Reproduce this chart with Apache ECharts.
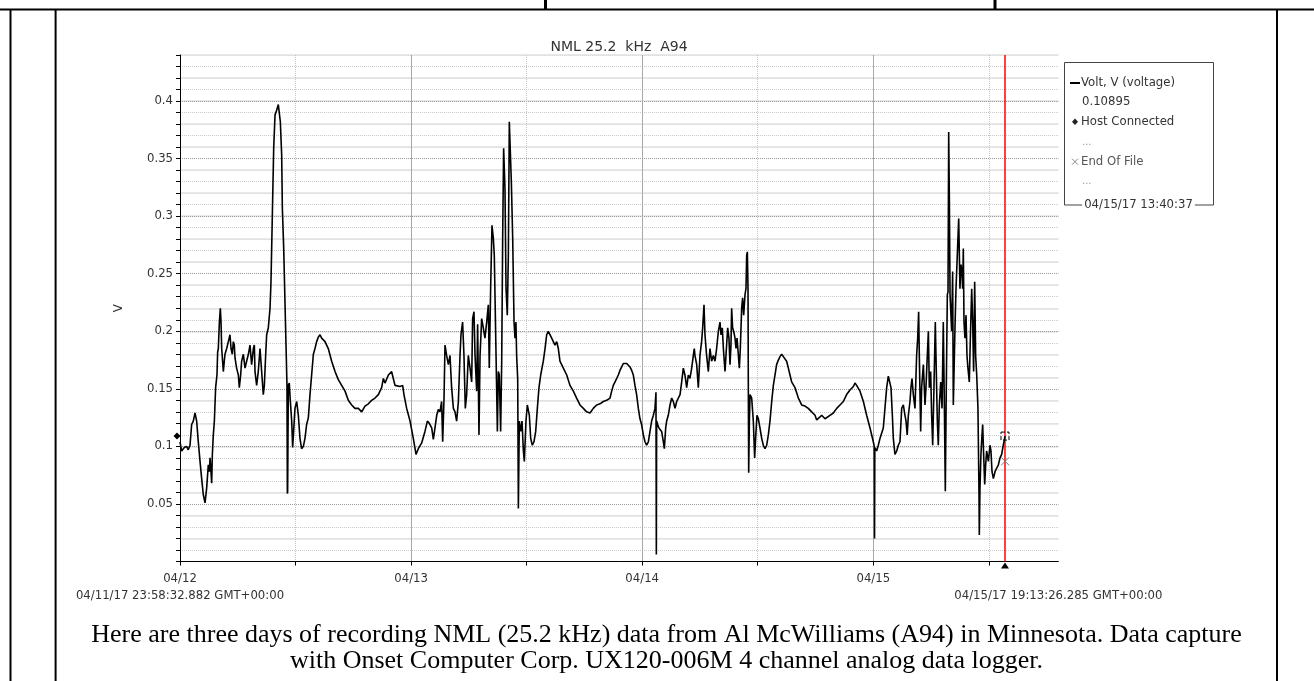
<!DOCTYPE html>
<html>
<head>
<meta charset="utf-8">
<script src="https://cdn.jsdelivr.net/npm/echarts@6/dist/echarts.min.js"></script>
<style>
html,body{margin:0;padding:0;background:#fff;}
#chart{width:1314px;height:681px;}
</style>
</head>
<body>
<div id="chart"></div>
<script>
// Hours after 04/12/17 00:00 GMT, voltage (V)
const day12 = [[0.00,0.104],[0.17,0.096],[0.45,0.099],[0.69,0.100],[0.86,0.097],[1.04,0.101],[1.21,0.119],[1.38,0.122],[1.56,0.129],[1.73,0.122],[1.90,0.104],[2.08,0.087],[2.25,0.072],[2.42,0.058],[2.60,0.051],[2.77,0.064],[2.94,0.084],[3.05,0.078],[3.12,0.090],[3.22,0.078],[3.29,0.068],[3.36,0.093],[3.46,0.110],[3.57,0.122],[3.70,0.151],[3.84,0.162],[3.91,0.182],[3.98,0.185],[4.09,0.208],[4.19,0.220],[4.26,0.208],[4.33,0.185],[4.50,0.165],[4.60,0.174],[4.67,0.180],[4.85,0.185],[5.02,0.191],[5.19,0.197],[5.30,0.185],[5.43,0.180],[5.54,0.191],[5.64,0.188],[5.71,0.177],[5.88,0.168],[6.06,0.162],[6.16,0.151],[6.30,0.162],[6.40,0.174],[6.58,0.180],[6.75,0.168],[6.92,0.174],[7.10,0.180],[7.27,0.188],[7.44,0.171],[7.62,0.185],[7.72,0.188],[7.79,0.165],[7.96,0.153],[8.13,0.165],[8.31,0.185],[8.48,0.165],[8.65,0.145],[8.76,0.153],[8.90,0.180],[9.00,0.197],[9.17,0.203],[9.35,0.220],[9.45,0.243],[9.59,0.301],[9.73,0.359],[9.87,0.388],[10.04,0.392],[10.21,0.397],[10.32,0.398],[10.42,0.382],[10.56,0.353],[10.63,0.307],[10.77,0.272],[10.90,0.226],[11.01,0.188],[11.11,0.153],[11.15,0.059],[11.18,0.061],[11.25,0.153],[11.35,0.155],[11.46,0.139],[11.60,0.122],[11.70,0.099],[11.80,0.113],[11.94,0.133],[12.12,0.139],[12.29,0.127],[12.46,0.107],[12.63,0.098],[12.81,0.100],[12.98,0.107],[13.15,0.119],[13.33,0.125],[13.50,0.145],[13.67,0.162],[13.85,0.180],[14.02,0.185],[14.19,0.191],[14.37,0.195],[14.54,0.197],[14.71,0.194],[14.88,0.194],[15.06,0.191],[15.23,0.188],[15.40,0.185],[15.75,0.174],[16.10,0.165],[16.44,0.158],[16.79,0.153],[17.14,0.148],[17.48,0.140],[17.83,0.136],[18.17,0.133],[18.52,0.133],[18.87,0.130],[19.21,0.135],[19.56,0.137],[19.90,0.140],[20.25,0.142],[20.60,0.145],[20.94,0.151],[21.12,0.159],[21.29,0.155],[21.64,0.162],[21.98,0.165],[22.15,0.159],[22.33,0.153]];
const day13 = [[22.50,0.153],[22.85,0.152],[23.12,0.153],[23.26,0.145],[23.54,0.133],[23.89,0.122],[24.23,0.107],[24.51,0.093],[24.75,0.098],[25.10,0.103],[25.44,0.113],[25.69,0.122],[25.89,0.120],[26.14,0.116],[26.31,0.106],[26.48,0.116],[26.66,0.127],[26.83,0.132],[27.00,0.130],[27.17,0.139],[27.28,0.104],[27.42,0.142],[27.52,0.188],[27.69,0.179],[27.87,0.171],[28.04,0.179],[28.21,0.151],[28.39,0.133],[28.56,0.130],[28.73,0.122],[28.91,0.139],[29.08,0.179],[29.18,0.197],[29.35,0.208],[29.49,0.179],[29.63,0.133],[29.77,0.145],[29.94,0.179],[30.12,0.168],[30.29,0.156],[30.39,0.211],[30.53,0.217],[30.64,0.179],[30.81,0.148],[30.91,0.206],[31.05,0.110],[31.16,0.179],[31.33,0.211],[31.50,0.203],[31.67,0.194],[31.85,0.208],[32.02,0.223],[32.12,0.168],[32.26,0.237],[32.40,0.292],[32.54,0.281],[32.64,0.266],[32.82,0.180],[32.96,0.113],[33.06,0.165],[33.16,0.162],[33.30,0.113],[33.41,0.174],[33.51,0.281],[33.61,0.359],[33.75,0.324],[33.86,0.237],[33.99,0.214],[34.10,0.266],[34.20,0.382],[34.34,0.382],[34.41,0.330],[34.55,0.281],[34.69,0.208],[34.79,0.194],[34.89,0.208],[34.96,0.179],[35.07,0.159],[35.14,0.046],[35.24,0.122],[35.38,0.113],[35.52,0.122],[35.66,0.096],[35.76,0.087],[35.93,0.122],[36.07,0.136],[36.28,0.127],[36.42,0.107],[36.59,0.101],[36.76,0.104],[36.94,0.113],[37.11,0.133],[37.28,0.151],[37.46,0.162],[37.73,0.174],[37.91,0.185],[38.08,0.197],[38.25,0.200],[38.42,0.197],[38.60,0.194],[38.77,0.194],[38.94,0.188],[39.12,0.191],[39.29,0.185],[39.46,0.174],[39.81,0.168],[40.16,0.162],[40.50,0.153],[40.85,0.148],[41.19,0.142],[41.54,0.136],[41.89,0.133],[42.23,0.130],[42.58,0.129],[42.92,0.133],[43.27,0.136],[43.62,0.137],[43.96,0.139],[44.31,0.140],[44.66,0.142]];
const day14 = [[44.83,0.148],[45.00,0.153],[45.18,0.156],[45.35,0.159],[45.52,0.162],[45.69,0.166],[45.87,0.169],[46.04,0.172],[46.21,0.171],[46.39,0.172],[46.56,0.171],[46.73,0.169],[46.91,0.166],[47.08,0.162],[47.25,0.153],[47.42,0.145],[47.60,0.133],[47.77,0.124],[47.94,0.119],[48.12,0.110],[48.29,0.104],[48.46,0.101],[48.64,0.104],[48.81,0.113],[48.98,0.122],[49.16,0.127],[49.33,0.133],[49.43,0.147],[49.47,0.006],[49.50,0.122],[49.61,0.119],[49.74,0.116],[49.85,0.117],[50.02,0.113],[50.20,0.104],[50.30,0.098],[50.44,0.116],[50.54,0.122],[50.71,0.127],[50.89,0.136],[51.06,0.142],[51.23,0.139],[51.41,0.133],[51.58,0.139],[51.75,0.139],[51.93,0.145],[52.10,0.156],[52.27,0.168],[52.44,0.162],[52.62,0.151],[52.79,0.162],[52.96,0.159],[53.14,0.168],[53.31,0.179],[53.41,0.185],[53.48,0.179],[53.66,0.171],[53.83,0.151],[54.00,0.179],[54.17,0.191],[54.28,0.203],[54.42,0.223],[54.52,0.197],[54.69,0.179],[54.87,0.165],[55.04,0.185],[55.21,0.174],[55.39,0.179],[55.56,0.174],[55.73,0.185],[55.91,0.200],[56.08,0.208],[56.18,0.197],[56.32,0.203],[56.43,0.185],[56.60,0.165],[56.70,0.179],[56.88,0.203],[57.01,0.194],[57.12,0.171],[57.22,0.188],[57.29,0.220],[57.39,0.203],[57.50,0.200],[57.64,0.194],[57.74,0.185],[57.85,0.194],[57.98,0.180],[58.09,0.168],[58.19,0.185],[58.33,0.220],[58.43,0.229],[58.54,0.214],[58.68,0.232],[58.78,0.237],[58.85,0.266],[58.92,0.269],[58.99,0.237],[59.02,0.156],[59.06,0.077],[59.13,0.122],[59.20,0.145],[59.37,0.142],[59.54,0.122],[59.68,0.090],[59.78,0.107],[59.92,0.127],[60.06,0.124],[60.23,0.116],[60.41,0.107],[60.58,0.101],[60.75,0.098],[60.93,0.101],[61.10,0.110],[61.27,0.122],[61.45,0.139],[61.62,0.153],[61.79,0.162],[61.96,0.171],[62.14,0.175],[62.31,0.178],[62.48,0.180],[62.66,0.178],[62.83,0.177],[63.00,0.174],[63.18,0.168],[63.35,0.162],[63.52,0.156],[63.87,0.151],[64.22,0.142],[64.56,0.136],[64.91,0.135],[65.25,0.133],[65.43,0.133],[65.60,0.130],[65.95,0.127],[66.12,0.123],[66.29,0.124],[66.64,0.127],[66.81,0.126],[66.99,0.124]];
const day15 = [[67.16,0.123],[67.50,0.127],[67.85,0.129],[68.20,0.133],[68.54,0.136],[68.89,0.139],[69.23,0.145],[69.58,0.149],[69.93,0.152],[70.10,0.155],[70.27,0.153],[70.62,0.148],[70.97,0.139],[71.31,0.127],[71.66,0.116],[72.00,0.104],[72.10,0.100],[72.13,0.020],[72.16,0.099],[72.35,0.096],[72.52,0.101],[72.70,0.107],[73.04,0.116],[73.21,0.133],[73.39,0.151],[73.56,0.161],[73.73,0.162],[73.84,0.151],[73.98,0.127],[74.08,0.107],[74.25,0.093],[74.43,0.096],[74.60,0.101],[74.77,0.104],[74.95,0.133],[75.12,0.136],[75.29,0.127],[75.40,0.122],[75.52,0.110],[75.64,0.127],[75.81,0.139],[75.91,0.151],[76.02,0.159],[76.16,0.145],[76.33,0.133],[76.50,0.179],[76.61,0.194],[76.71,0.217],[76.78,0.179],[76.92,0.113],[77.02,0.151],[77.20,0.171],[77.37,0.136],[77.47,0.151],[77.61,0.179],[77.72,0.200],[77.82,0.151],[77.96,0.165],[78.06,0.127],[78.17,0.101],[78.30,0.151],[78.44,0.208],[78.51,0.179],[78.65,0.122],[78.75,0.101],[78.86,0.136],[79.00,0.156],[79.14,0.133],[79.27,0.208],[79.38,0.136],[79.48,0.061],[79.58,0.151],[79.69,0.232],[79.76,0.234],[79.83,0.373],[79.90,0.315],[79.97,0.232],[80.14,0.200],[80.24,0.252],[80.31,0.136],[80.41,0.174],[80.48,0.202],[80.59,0.237],[80.73,0.237],[80.87,0.298],[81.00,0.237],[81.11,0.258],[81.21,0.252],[81.28,0.237],[81.35,0.272],[81.42,0.208],[81.52,0.194],[81.63,0.214],[81.73,0.179],[81.83,0.168],[81.97,0.156],[82.08,0.194],[82.22,0.237],[82.32,0.208],[82.42,0.165],[82.53,0.243],[82.63,0.179],[82.74,0.162],[82.87,0.133],[82.98,0.058],[83.01,0.023],[83.08,0.064],[83.18,0.093],[83.29,0.110],[83.36,0.119],[83.46,0.093],[83.57,0.067],[83.67,0.084],[83.77,0.096],[83.95,0.087],[84.12,0.101],[84.22,0.096],[84.33,0.078],[84.47,0.072],[84.64,0.078],[84.81,0.081],[84.99,0.084],[85.16,0.090],[85.33,0.093],[85.50,0.101],[85.68,0.109]];

const dayLabels = ['04/12', '04/13', '04/14', '04/15'];
const yTickLabels = ['0.05', '0.1', '0.15', '0.2', '0.25', '0.3', '0.35', '0.4'];
const axisStartText = '04/11/17 23:58:32.882 GMT+00:00';
const axisEndText = '04/15/17 19:13:26.285 GMT+00:00';
const axisEndHour = 91.224;          // 04/15/17 19:13:26
const cursorHour = 85.677;           // 04/15/17 13:40:37
const cursorValue = 0.10895;
const hostConnectedPoint = [0, 0.109];
const endOfFilePoint = [85.69, 0.087];
const titleText = 'NML 25.2  kHz  A94';
const legendLines = ['Volt, V (voltage)', '0.10895', 'Host Connected', 'End Of File', '04/15/17 13:40:37'];
const captionLines = [
  'Here are three days of recording NML (25.2 kHz) data from Al McWilliams (A94) in Minnesota. Data capture',
  'with Onset Computer Corp. UX120-006M 4 channel analog data logger.'
];

const SANS = '"DejaVu Sans", "Liberation Sans", sans-serif';
const SERIF = '"Liberation Serif", "Times New Roman", serif';
const FS = 11.7;

const chart = echarts.init(document.getElementById('chart'), null, {renderer: 'canvas'});

function yLabel(v) {
  const k = Math.round(v / 0.05);
  if (Math.abs(v - k * 0.05) < 1e-6 && k >= 1 && k <= yTickLabels.length) return yTickLabels[k - 1];
  return '';
}
function xLabel(v) {
  const k = Math.round(v / 24);
  if (Math.abs(v - k * 24) < 1e-6 && k >= 0 && k < dayLabels.length) return dayLabels[k];
  return '';
}

function txt(text, x, y, opts) {
  return {
    type: 'text', silent: true,
    style: Object.assign({
      text: text, x: x, y: y,
      font: FS + 'px ' + SANS, fill: '#333',
      textAlign: 'left', textVerticalAlign: 'middle'
    }, opts || {})
  };
}
function ln(x1, y1, x2, y2, stroke, w) {
  return {type: 'line', silent: true, shape: {x1: x1, y1: y1, x2: x2, y2: y2}, style: {stroke: stroke, lineWidth: w}};
}

const hiddenAxisParts = {axisLine: {show: false}, axisTick: {show: false}, axisLabel: {show: false}};

const option = {
  animation: false,
  backgroundColor: '#fff',
  textStyle: {fontFamily: SANS},
  grid: {left: 180, right: 255.6, top: 55, bottom: 119.5, containLabel: false},
  xAxis: [
    {
      type: 'value', min: 0, max: axisEndHour, interval: 12, position: 'bottom',
      axisLine: {show: true, onZero: false, lineStyle: {color: '#000', width: 1}},
      axisTick: {show: true, length: 4, lineStyle: {color: '#000'}},
      axisLabel: {formatter: xLabel, color: '#333', fontSize: FS, fontFamily: SANS, margin: 11, showMaxLabel: false},
      splitLine: {show: true, showMinLine: false, showMaxLine: false, lineStyle: {color: '#c4c4c4', type: 'dotted', width: 1}}
    },
    Object.assign({
      type: 'value', min: 0, max: axisEndHour, interval: 24,
      splitLine: {show: true, showMinLine: false, showMaxLine: false, lineStyle: {color: '#a8a8a8', type: 'solid', width: 1}}
    }, hiddenAxisParts)
  ],
  yAxis: [
    {
      type: 'value', min: 0, max: 0.44, interval: 0.01,
      name: 'V', nameLocation: 'middle', nameGap: 55, nameRotate: 90,
      nameTextStyle: {color: '#333', fontSize: FS, fontFamily: SANS},
      axisLine: {show: true, onZero: false, lineStyle: {color: '#000', width: 1}},
      axisTick: {show: true, length: 4, lineStyle: {color: '#000'}},
      axisLabel: {formatter: yLabel, color: '#333', fontSize: FS, fontFamily: SANS, margin: 7},
      splitLine: {show: true, showMinLine: false, lineStyle: {color: '#c8c8c8', type: 'dotted', width: 1}}
    },
    Object.assign({
      type: 'value', min: 0, max: 0.44, interval: 0.02,
      splitLine: {show: true, showMinLine: false, lineStyle: {color: '#e2e2e2', type: 'solid', width: 1.5}}
    }, hiddenAxisParts),
    Object.assign({
      type: 'value', min: 0, max: 0.44, interval: 0.05,
      splitLine: {show: true, showMinLine: false, showMaxLine: false, lineStyle: {color: '#9a9a9a', type: 'dotted', width: 1}}
    }, hiddenAxisParts)
  ],
  series: [
    {
      name: 'Volt, V (voltage)',
      type: 'line',
      xAxisIndex: 0, yAxisIndex: 0,
      data: [].concat(day12, day13, day14, day15),
      showSymbol: false,
      symbol: 'none',
      lineStyle: {color: '#000', width: 1.6},
      z: 5,
      markLine: {
        silent: true, symbol: ['none', 'none'],
        label: {show: false},
        lineStyle: {color: '#ff0000', width: 1.5, type: 'solid'},
        data: [{xAxis: cursorHour}]
      },
      markPoint: {
        silent: true,
        label: {show: false},
        data: [
          {coord: [cursorHour, cursorValue], symbol: 'rect', symbolSize: 8,
           itemStyle: {color: 'rgba(0,0,0,0)', borderColor: '#000', borderWidth: 1, borderType: 'dashed'}},
          {coord: endOfFilePoint, symbol: 'path://M0,0L10,10M10,0L0,10', symbolSize: 8,
           itemStyle: {color: 'none', borderColor: '#777', borderWidth: 1}},
          {coord: hostConnectedPoint, symbol: 'diamond', symbolSize: [7, 7], symbolOffset: [-3, 0],
           itemStyle: {color: '#000'}},
          {coord: [cursorHour, 0], symbol: 'triangle', symbolSize: [8, 6], symbolOffset: [0, 4],
           itemStyle: {color: '#000'}}
        ]
      }
    }
  ],
  graphic: {
    elements: [
      // document table borders
      ln(0, 9.5, 1314, 9.5, '#000', 2),
      ln(10.5, 9, 10.5, 681, '#000', 2),
      ln(55.6, 9, 55.6, 681, '#000', 2),
      ln(1277, 9, 1277, 681, '#000', 2),
      ln(545.5, 0, 545.5, 9, '#000', 3),
      ln(995, 0, 995, 9, '#000', 3),
      // chart title
      txt(titleText, 619, 47, {textAlign: 'center', font: '14px ' + SANS}),
      // axis range labels
      txt(axisStartText, 180, 596, {textAlign: 'center'}),
      txt(axisEndText, 1058.4, 596, {textAlign: 'center'}),
      // legend box
      {type: 'rect', silent: true, shape: {x: 1064.5, y: 62.5, width: 149, height: 142.5},
       style: {fill: 'none', stroke: '#444', lineWidth: 1}},
      ln(1070, 83, 1080, 83, '#000', 2),
      txt(legendLines[0], 1081, 83),
      txt(legendLines[1], 1082, 102),
      {type: 'polygon', silent: true, shape: {points: [[1075, 118.5], [1078, 121.7], [1075, 125], [1072, 121.7]]},
       style: {fill: '#222'}},
      txt(legendLines[2], 1081, 122),
      txt('...', 1082, 142, {fill: '#999', font: '10px ' + SANS}),
      ln(1072, 158.7, 1078, 164.7, '#888', 1),
      ln(1078, 158.7, 1072, 164.7, '#888', 1),
      txt(legendLines[3], 1081, 162, {fill: '#555'}),
      txt('...', 1082, 181, {fill: '#999', font: '10px ' + SANS}),
      txt(legendLines[4], 1138.5, 205, {textAlign: 'center', backgroundColor: '#fff', padding: [0, 2]}),
      // caption
      txt(captionLines[0], 666.5, 635, {textAlign: 'center', font: '26px ' + SERIF, fill: '#000'}),
      txt(captionLines[1], 666.5, 661, {textAlign: 'center', font: '26px ' + SERIF, fill: '#000'})
    ]
  }
};

chart.setOption(option);
</script>
</body>
</html>
